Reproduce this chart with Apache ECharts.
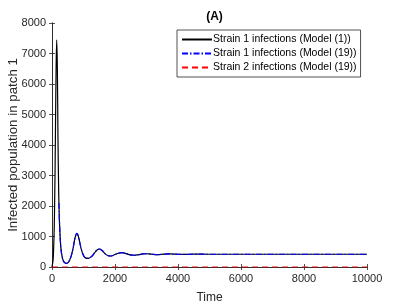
<!DOCTYPE html>
<html><head><meta charset="utf-8">
<script src="https://cdn.jsdelivr.net/npm/echarts@6/dist/echarts.min.js"></script>
<style>html,body{margin:0;padding:0;background:#fff}#c{width:405px;height:304px}</style>
</head><body><div id="c"></div>
<script>
var times = [0,40,80,110,130,150,170,190,210,220,240,280,330,390,460,530,600,670,730,790,850,920,990,1060,1150,1250,1350,1430,1500,1580,1680,1770,1850,1950,2100,2220,2350,2480,2610,2750,2880,2990,3150,3350,3550,3750,3950,4200,4500,5000,6000,7000,8000,9000,10000];
var strain1Model1 = [0,300,1800,4500,6500,7450,6500,4200,2600,2100,1400,650,300,150,120,170,330,620,950,1100,950,620,400,300,285,340,460,560,590,550,440,375,360,385,450,470,440,400,385,405,430,435,420,405,420,428,420,414,420,418,418,418,418,418,418];
var times19 = times.slice(9);
var strain1Model19 = strain1Model1.slice(9);
var strain2Times = [0,10000];
var strain2Model19 = [0,0];
var xTicks = [0,2000,4000,6000,8000,10000];
var yTicks = [0,1000,2000,3000,4000,5000,6000,7000,8000];
var seriesNames = ['Strain 1 infections (Model (1))','Strain 1 infections (Model (19))','Strain 2 infections (Model (19))'];

function pairs(xs, ys){ return xs.map(function(x,i){return [x, ys[i]];}); }
var font = 'Liberation Sans, Arial, Helvetica, sans-serif';
var axCol = '#262626';
var styles = [
  {color:'#000000',type:'solid'},
  {color:'#0000ff',type:[6,2,1.5,2]},
  {color:'#ff0000',type:[6,4]}
];
var chart = echarts.init(document.getElementById('c'), null, {renderer:'canvas'});
var baseAxis = {
  axisLine:{show:true,lineStyle:{color:axCol,width:0.8}},
  axisTick:{show:true,inside:true,length:3,lineStyle:{color:axCol,width:0.8}},
  splitLine:{show:false}
};
chart.setOption({
  animation:false,
  title:{text:'(A)',left:209.5,textAlign:'center',top:6,textStyle:{fontFamily:font,fontSize:12,fontWeight:'bold',color:'#000'}},
  grid:{left:52,right:38,top:23,bottom:37,containLabel:false,outerBoundsMode:'none'},
  legend:{
    orient:'vertical',left:177,top:30,
    data:seriesNames,
    itemWidth:30,itemHeight:11,itemGap:3,
    padding:[4,4,4,4],
    borderColor:'#262626',borderWidth:0.8,backgroundColor:'#fff',
    itemStyle:{opacity:0},
    textStyle:{fontFamily:font,fontSize:10.5,color:'#000',padding:[0,0,0,-4]}
  },
  xAxis:[
    Object.assign({type:'value',min:0,max:10000,interval:2000,position:'bottom',
      name:'Time',nameLocation:'middle',nameGap:25,nameMoveOverlap:false,
      nameTextStyle:{fontFamily:font,fontSize:12,color:axCol},
      axisLabel:{fontFamily:font,fontSize:11,color:axCol,margin:6,
        formatter:function(v){return xTicks.indexOf(v)>=0?String(v):'';}}},baseAxis),
    Object.assign({type:'value',min:0,max:10000,interval:2000,position:'top',axisLabel:{show:false}},baseAxis)
  ],
  yAxis:[
    Object.assign({type:'value',min:0,max:8000,interval:1000,position:'left',
      name:'Infected population in patch 1',nameLocation:'middle',nameGap:32,nameMoveOverlap:false,
      nameTextStyle:{fontFamily:font,fontSize:13.3,color:axCol},
      axisLabel:{fontFamily:font,fontSize:11,color:axCol,margin:6,
        formatter:function(v){return yTicks.indexOf(v)>=0?String(v):'';}}},baseAxis),
    Object.assign({type:'value',min:0,max:8000,interval:1000,position:'right',axisLabel:{show:false}},baseAxis)
  ],
  series:[
    {name:seriesNames[0],type:'line',data:pairs(times,strain1Model1),smooth:0.4,symbol:'none',
      itemStyle:{color:styles[0].color},lineStyle:{color:styles[0].color,width:1.2,type:styles[0].type},z:2},
    {name:seriesNames[1],type:'line',data:pairs(times19,strain1Model19),smooth:0.4,symbol:'none',
      itemStyle:{color:styles[1].color},lineStyle:{color:styles[1].color,width:1.2,type:styles[1].type},z:3},
    {name:seriesNames[2],type:'line',data:pairs(strain2Times,strain2Model19),symbol:'none',
      itemStyle:{color:styles[2].color},lineStyle:{color:styles[2].color,width:1.2,type:styles[2].type},z:4}
  ]
});
</script></body></html>
